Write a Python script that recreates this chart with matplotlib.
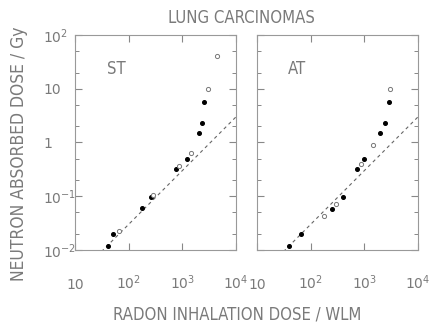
import numpy as np
import matplotlib.pyplot as plt
from matplotlib.ticker import LogLocator, FixedLocator, FixedFormatter, NullFormatter

# ST panel
st_open_x = [4370, 2950, 1480, 870, 287, 67]
st_open_y = [40, 9.8, 0.63, 0.366, 0.105, 0.0226]
st_fill_x = [2570, 2300, 2070, 1210, 750, 257, 174, 52, 41]
st_fill_y = [5.6, 2.3, 1.5, 0.49, 0.316, 0.098, 0.0597, 0.0196, 0.012]

# AT panel
at_open_x = [2950, 1450, 870, 295, 178]
at_open_y = [9.8, 0.89, 0.40, 0.072, 0.042]
at_fill_x = [2870, 2380, 1980, 1000, 720, 394, 245, 66, 40]
at_fill_y = [5.6, 2.3, 1.48, 0.49, 0.32, 0.098, 0.059, 0.0196, 0.012]

# dashed reference line (slope ~1 on log-log)
line_x = np.array([31, 1e4])
line_coef = 3.0e-4

xticks = [10, 100, 1000, 10000]
xticklabels = ['10', r'$10^2$', r'$10^3$', r'$10^4$']
yticks = [0.01, 0.1, 1, 10, 100]
yticklabels = [r'$10^{-2}$', r'$10^{-1}$', '1', '10', r'$10^2$']

grey = '#7a7a7a'
plt.rcParams['mathtext.fontset'] = 'dejavusans'
plt.rcParams['font.family'] = ['DejaVu Sans']

fig = plt.figure(figsize=(4.31, 3.24), dpi=100)
ax1 = fig.add_axes([0.174, 0.2284, 0.3736, 0.6636])
ax2 = fig.add_axes([0.5963, 0.2284, 0.3736, 0.6636])

panels = [(ax1, 'ST', 0.2, st_open_x, st_open_y, st_fill_x, st_fill_y),
          (ax2, 'AT', 0.19, at_open_x, at_open_y, at_fill_x, at_fill_y)]

for ax, name, tx, ox, oy, fx, fy in panels:
    ax.set_xscale('log')
    ax.set_yscale('log')
    ax.set_xlim(10, 1e4)
    ax.set_ylim(0.01, 100)
    ax.plot(line_x, line_coef * line_x, ls=(0, (3, 3)), color='#666666', lw=0.8)
    ax.plot(fx, fy, 'o', ms=2.6, color='black', mec='black')
    ax.plot(ox, oy, 'o', ms=3.0, mfc='white', mec='#777777', mew=0.7)
    ax.text(tx, 0.84, name, transform=ax.transAxes, fontsize=12,
            color=grey, va='center', fontstretch='condensed')
    for sp in ax.spines.values():
        sp.set_color('#999999')
        sp.set_linewidth(0.8)
    ax.xaxis.set_major_locator(FixedLocator(xticks))
    ax.xaxis.set_major_formatter(FixedFormatter(xticklabels))
    ax.yaxis.set_major_locator(FixedLocator(yticks))
    ax.yaxis.set_major_formatter(FixedFormatter(yticklabels))
    ax.xaxis.set_minor_locator(LogLocator(base=10, subs=[2, 5]))
    ax.yaxis.set_minor_locator(LogLocator(base=10, subs=[2, 5]))
    ax.xaxis.set_minor_formatter(NullFormatter())
    ax.yaxis.set_minor_formatter(NullFormatter())
    ax.tick_params(which='both', direction='in', top=True, right=True,
                   color='#888888', labelcolor=grey, labelsize=10)
    ax.tick_params(which='major', length=5, width=0.8)
    ax.tick_params(which='minor', length=3, width=0.7)
    ax.tick_params(axis='x', pad=28)
    ax.tick_params(axis='y', pad=23)
    for t in ax.xaxis.get_major_ticks():
        t.label1.set_va('baseline')
    for t in ax.yaxis.get_major_ticks():
        t.label1.set_ha('left')

ax2.tick_params(labelleft=False)

fig.text(0.56, 0.943, 'LUNG CARCINOMAS', ha='center', va='center',
         fontsize=12, color=grey, fontstretch='condensed')
fig.text(0.551, 0.028, 'RADON INHALATION DOSE / WLM', ha='center',
         va='center', fontsize=12, color=grey, fontstretch='condensed')
fig.text(0.044, 0.526, 'NEUTRON ABSORBED DOSE / Gy', ha='center',
         va='center', rotation=90, fontsize=12.5, color=grey,
         fontstretch='condensed')

fig.savefig('out.png', dpi=100)
